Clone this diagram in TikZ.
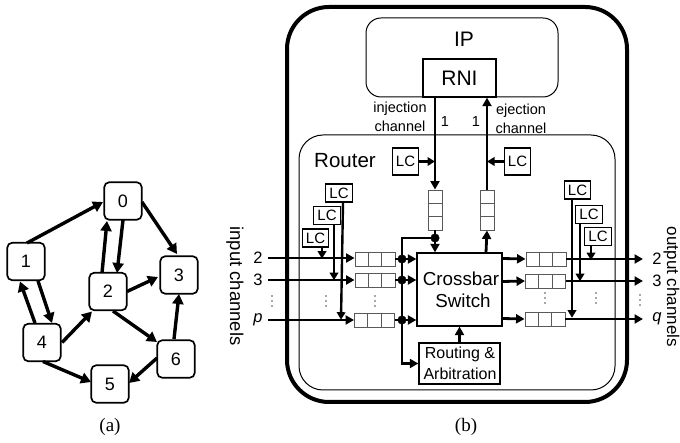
\documentclass[tikz,border=0pt]{standalone}
\usepackage{fontspec}
\setmainfont{Liberation Sans}
\newfontfamily\capfont{Liberation Serif}
\usetikzlibrary{arrows.meta,calc}
\newcommand{\fs}[1]{\fontsize{#1}{#1}\selectfont}
\tikzset{
  vertex/.style={draw=black,line width=1.7pt,rounded corners=5pt,minimum size=37.5pt,inner sep=0pt,font=\fs{18}},
  edge/.style={line width=3.4pt,-{Triangle[length=10pt,width=11pt]}},
  wire/.style={line width=2.8pt,-{Triangle[length=8.5pt,width=9pt]}},
  plainwire/.style={line width=2.8pt},
  thinwire/.style={line width=2.4pt,-{Triangle[length=7.5pt,width=8.5pt]}},
  lcbox/.style={draw=black,line width=1.4pt,fill=white,minimum width=26.5pt,minimum height=18pt,inner sep=0pt,font=\fs{15}},
  lcbig/.style={lcbox,minimum height=27pt},
  bufh/.style={draw=black!65,line width=0.9pt,fill=white,minimum width=40pt,minimum height=14pt,inner sep=0pt},
  bufv/.style={draw=black!65,line width=0.9pt,fill=white,minimum width=14pt,minimum height=40pt,inner sep=0pt},
  cell/.style={draw=black!65,line width=0.8pt},
  lab/.style={inner sep=0pt,font=\fs{14.5}},
  port/.style={inner sep=0pt,font=\fs{16.5}},
  junction/.style={circle,fill=black,draw=black,minimum size=8.5pt,inner sep=0pt},
  block/.style={draw=black,line width=1.3pt,fill=white,inner sep=0pt,align=center}
}
\newcommand{\hcells}[1]{\draw[cell] ($(#1.west)!0.333!(#1.east)+(0,-7)$) -- ++(0,14);\draw[cell] ($(#1.west)!0.667!(#1.east)+(0,-7)$) -- ++(0,14);}
\newcommand{\vcells}[1]{\draw[cell] ($(#1.north)!0.333!(#1.south)+(-7,0)$) -- ++(14,0);\draw[cell] ($(#1.north)!0.667!(#1.south)+(-7,0)$) -- ++(14,0);}
\begin{document}
\begin{tikzpicture}[x=1pt,y=-1pt]
\useasboundingbox (0,0) rectangle (680,443);
% ---------- (a)
\node[vertex] (n0) at (123,201) {0};
\node[vertex] (n1) at (26,261.5) {1};
\node[vertex] (n2) at (108,291.5) {2};
\node[vertex] (n3) at (179,275) {3};
\node[vertex] (n4) at (42,342.5) {4};
\node[vertex] (n5) at (110,384) {5};
\node[vertex] (n6) at (176,359) {6};
\draw[edge] ($(n1)+(1,-18.5)$) -- ($(n0)+(-20,1)$);
\draw[edge] ($(n0)+(19,1)$) -- ($(n3)+(-2,-21)$);
\draw[edge] ($(n0)+(0,19)$) -- ($(n2)+(9,-18.5)$);
\draw[edge] ($(n2)+(-6,-18.5)$) -- ($(n0)+(-16,20)$);
\draw[edge] ($(n2)+(19,0)$) -- ($(n3)+(-21,2)$);
\draw[edge] ($(n2)+(5,19.5)$) -- ($(n6)+(-19,-17)$);
\draw[edge] ($(n6)+(-2,-20)$) -- ($(n3)+(0,19)$);
\draw[edge] ($(n6)+(-19,-1)$) -- ($(n5)+(19,-1)$);
\draw[edge] ($(n4)+(1,19)$) -- ($(n5)+(-19,-2)$);
\draw[edge] ($(n4)+(20,0)$) -- ($(n2)+(-16,20)$);
\draw[edge] ($(n4)+(-7,-19.5)$) -- ($(n1)+(-6,20)$);
\draw[edge] ($(n1)+(12,19.5)$) -- ($(n4)+(10,-19.5)$);
\node[inner sep=0pt,font=\capfont\fs{19}] (capa) at (110,427) {(a)};
% ---------- (b) containers
\node[draw=black,line width=4pt,rounded corners=42pt,minimum width=340pt,minimum height=395pt,inner sep=0pt] (soc) at (457,204.5) {};
\node[draw=black,line width=1pt,rounded corners=24pt,minimum width=316pt,minimum height=255pt,inner sep=0pt] (router) at (457,262.5) {};
\node[draw=black,line width=1pt,rounded corners=15pt,minimum width=192pt,minimum height=79pt,inner sep=0pt] (ip) at (462,57.5) {};
\node[block,minimum width=73pt,minimum height=38pt,font=\fs{21}] (rni) at (459.5,78) {RNI};
\node[inner sep=0pt,font=\fs{21}] (iptext) at (464,39) {IP};
\node[inner sep=0pt,font=\fs{20.5}] (routertext) at (345,161) {Router};
\node[lab] (injtext) at (400,109) {injection};
\node[lab] (injtext2) at (400,126) {channel};
\node[lab] (ejtext) at (521,111) {ejection};
\node[lab] (ejtext2) at (521,128) {channel};
\node[lab] (one1) at (445,122) {1};
\node[lab] (one2) at (476,122) {1};
% switch and routing
\node[block,minimum width=85pt,minimum height=73pt] (xbar) at (459.5,289.5) {};
\node[inner sep=0pt,font=\fs{18.8}] (xbar1) at (461,279) {Crossbar};
\node[inner sep=0pt,font=\fs{18.8}] (xbar2) at (463,301) {Switch};
\node[block,minimum width=81pt,minimum height=41pt] (route) at (459.5,363.5) {};
\node[inner sep=0pt,font=\fs{16}] (route1) at (460,354) {Routing \&};
\node[inner sep=0pt,font=\fs{16}] (route2) at (460,374) {Arbitration};
% buffers
\node[bufv] (bi) at (435,210) {}; \vcells{bi}
\node[bufv] (be) at (487,210) {}; \vcells{be}
\node[bufh] (ib1) at (375,259) {}; \hcells{ib1}
\node[bufh] (ib2) at (375,280) {}; \hcells{ib2}
\node[bufh] (ib3) at (374.5,320) {}; \hcells{ib3}
\node[bufh] (ob1) at (546,259) {}; \hcells{ob1}
\node[bufh] (ob2) at (545.5,281) {}; \hcells{ob2}
\node[bufh] (ob3) at (545,319) {}; \hcells{ob3}
% port labels
\node[port] (p2) at (258,258) {2};
\node[port] (p3) at (258,280) {3};
\node[port] (pp) at (258,320) {\itshape p};
\node[port] (q2) at (657,259) {2};
\node[port] (q3) at (657,281) {3};
\node[port] (qq) at (657,319) {\itshape q};
\node[rotate=-90,inner sep=0pt,font=\fs{18.5}] (intext) at (235,286) {input channels};
\node[rotate=-90,inner sep=0pt,font=\fs{17}] (outtext) at (671.5,287) {output channels};
\foreach \x/\y in {272/301,326/301,375/301,545/298,596/298,640/300}
  \foreach \d in {-5,0,5}
    \fill[black!70] (\x,\y+\d) circle (0.8pt);
% input/output wires
\coordinate (i1) at (268,258); \coordinate (i2) at (268,280); \coordinate (i3) at (268,320);
\coordinate (o1) at (643,259); \coordinate (o2) at (643,281); \coordinate (o3) at (643,319);
\draw[wire] (i1) -- (i1 -| ib1.west);
\draw[wire] (i2) -- (ib2.west);
\draw[wire] (i3) -- (ib3.west);
\draw[wire] (ob1.east) -- (o1);
\draw[wire] (ob2.east) -- (o2);
\draw[wire] (ob3.east) -- (o3);
\draw[wire] ($(xbar.east)+(0,-31)$) -- (ob1.west);
\draw[wire] ($(xbar.east)+(0,-8)$) -- (ob2.west);
\draw[wire] ($(xbar.east)+(0,29)$) -- (ob3.west);
% bus, junctions
\coordinate (j1) at (402,259);
\coordinate (j2) at (402,280);
\coordinate (j3) at (402,320);
\coordinate (j4) at (435,238);
\draw[plainwire] (ib1.east) -- (j1);
\draw[plainwire] (ib2.east) -- (j2);
\draw[plainwire] (ib3.east) -- (j3);
\draw[wire] (j1) -- (xbar.west |- j1);
\draw[wire] (j2) -- (xbar.west |- j2);
\draw[wire] (j3) -- (xbar.west |- j3);
\draw[wire] (j4) -| (j1) -- (j2) -- (j3) |- (route.west);
\draw[plainwire] (bi.south) -- (j4);
\draw[wire] (j4) -- (xbar.north -| j4);
\draw[wire] ($(xbar.north)+(26.5,0)$) -- (be.south);
\draw[wire] (route.north) -- (xbar.south);
\node[junction] (jn1) at (j1) {};
\node[junction] (jn2) at (j2) {};
\node[junction] (jn3) at (j3) {};
\node[junction] (jn4) at (j4) {};
% local channels
\draw[wire] (rni.south -| bi) -- (bi.north);
\draw[wire] (be.north) -- (rni.south -| be);
% LC boxes
\node[lcbig] (lct1) at (405.5,161.5) {LC};
\node[lcbig] (lct2) at (517.5,161.5) {LC};
\node[lcbox] (lcl1) at (315.5,238) {LC};
\node[lcbox] (lcl2) at (327,215.5) {LC};
\node[lcbox] (lcl3) at (339,193) {LC};
\node[lcbox] (lcr1) at (577.5,190) {LC};
\node[lcbox] (lcr2) at (589,214.5) {LC};
\node[lcbox] (lcr3) at (598,236.5) {LC};
\draw[thinwire] (lct1.east) -- (bi |- lct1);
\draw[thinwire] (lct2.west) -- (be |- lct2);
\draw[thinwire] ($(lcl1.south)+(6.5,0)$) -- ++(0,11);
\draw[thinwire] ($(lcl2.south)+(7,0)$) -- ++(0,55);
\draw[thinwire] ($(lcl3.south)+(4,0)$) -- ++(-2,117);
\draw[thinwire] ($(lcr1.south)+(-5.5,0)$) -- ++(0,118);
\draw[thinwire] ($(lcr2.south)+(-9,0)$) -- ++(0,57);
\draw[thinwire] ($(lcr3.south)+(-7,0)$) -- ++(0,14);
\node[inner sep=0pt,font=\capfont\fs{19}] (capb) at (466,427) {(b)};
\end{tikzpicture}
\end{document}
